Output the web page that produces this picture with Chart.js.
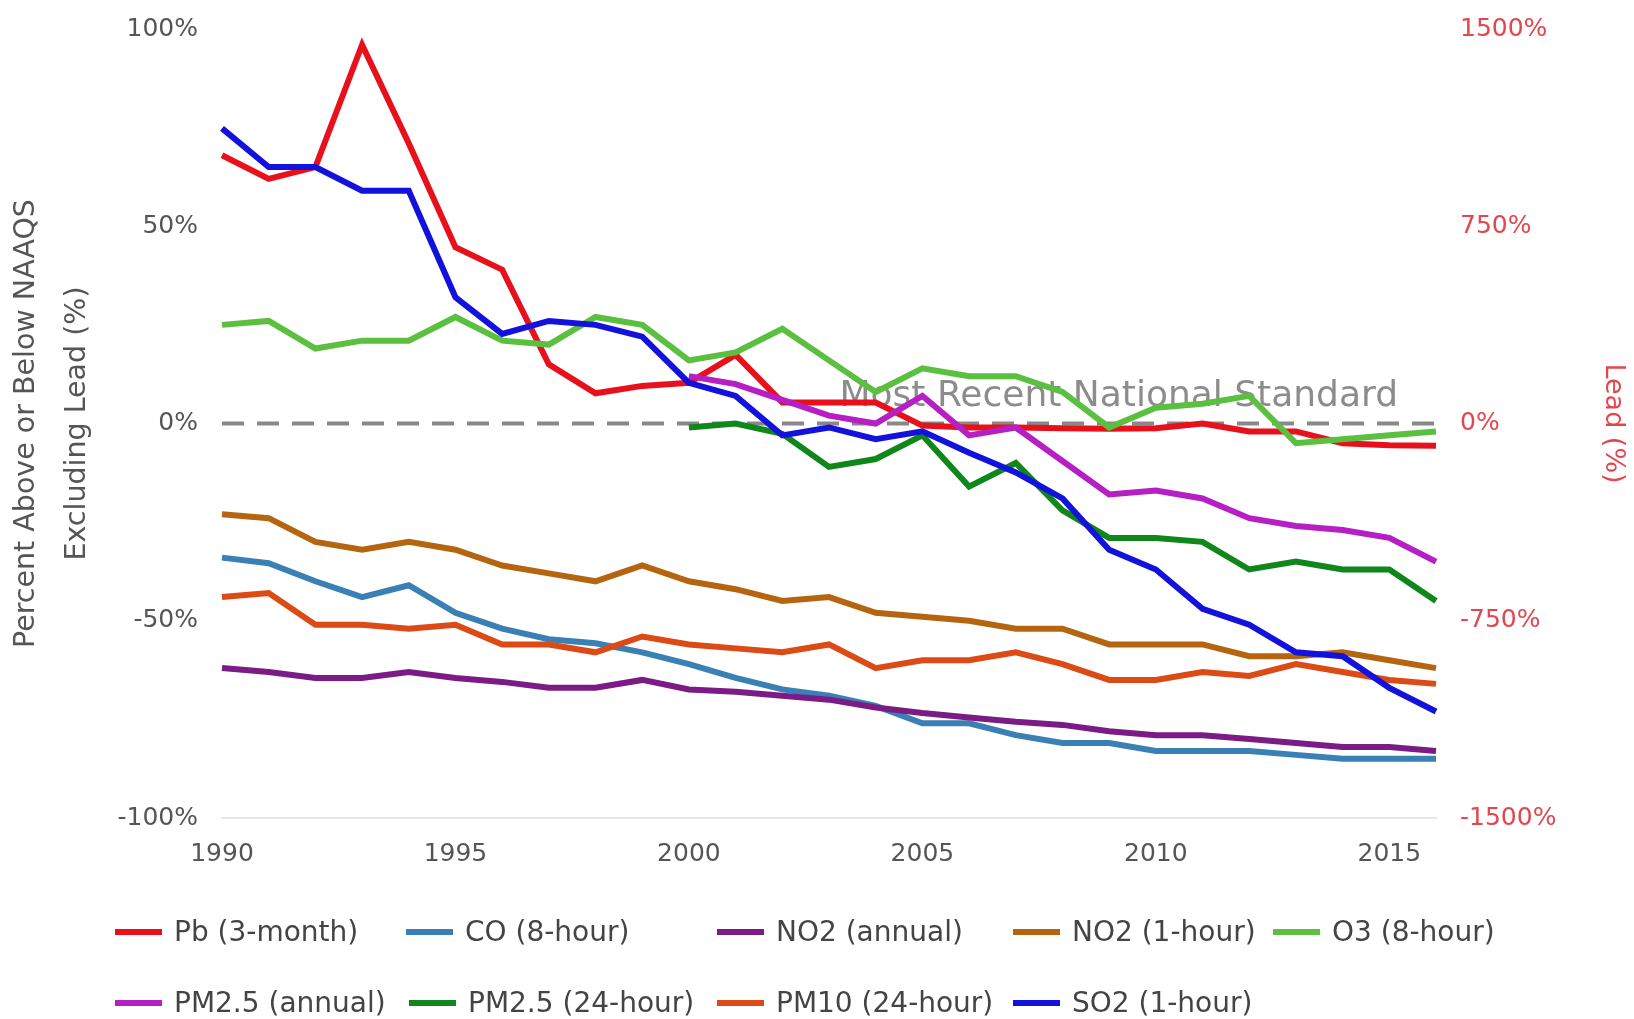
<!DOCTYPE html>
<html>
<head>
<meta charset="utf-8">
<script src="https://cdn.jsdelivr.net/npm/chart.js@4"></script>
<style>
  body { margin: 0; background: #fff; }
  #wrap { position: relative; width: 1634px; height: 1019px; }
  #legend { position: absolute; left: 0; top: 0; width: 1634px; height: 1019px; pointer-events: none;
    font-family: "DejaVu Sans", sans-serif; font-size: 28px; color: #444; }
  .item { position: absolute; height: 34px; line-height: 34px; white-space: nowrap; }
  .swatch { position: absolute; left: 0; top: 14px; width: 47px; height: 6px; }
  .label { position: absolute; left: 59px; top: 0; }
</style>
</head>
<body>
<div id="wrap">
  <canvas id="chart" width="1634" height="1019"></canvas>
  <div id="legend"></div>
</div>
<script>
const years = ["1990", "1991", "1992", "1993", "1994", "1995", "1996", "1997", "1998", "1999",
  "2000", "2001", "2002", "2003", "2004", "2005", "2006", "2007", "2008", "2009",
  "2010", "2011", "2012", "2013", "2014", "2015", "2016"];

// Lead is read against the right axis (Lead %)
const pb3Month = [1020, 930, 975, 1440, 1065, 670, 585, 225, 115, 143, 155, 261, 80, 80, 80,
  -8, -15, -15, -18, -20, -18, 0, -30, -30, -75, -83, -85];
const co8Hour = [-34, -35.4, -40, -44, -41, -48, -52, -54.7, -55.7, -58, -61, -64.5, -67.4, -69,
  -71.6, -76, -76, -79, -81, -81, -83, -83, -83, -84, -85, -85, -85];
const no2Annual = [-62, -63, -64.5, -64.5, -63, -64.5, -65.5, -67, -67, -65, -67.4, -68, -69, -70,
  -72, -73.4, -74.5, -75.6, -76.4, -78, -79, -79, -80, -81, -82, -82, -83];
const no21Hour = [-23, -24, -30, -32, -30, -32, -36, -38, -40, -36, -40, -42, -45, -44, -48, -49,
  -50, -52, -52, -56, -56, -56, -59, -59, -58, -60, -62];
const o38Hour = [25, 26, 19, 21, 21, 27, 21, 20, 27, 25, 16, 18, 24, 16, 8, 14, 12, 12, 8, -1, 4,
  5, 7, -5, -4, -3, -2];
const pm25Annual = [null, null, null, null, null, null, null, null, null, null, 12, 10, 6, 2, 0, 7,
  -3, -1, -9.5, -18, -17, -19, -24, -26, -27, -29, -35];
const pm2524Hour = [null, null, null, null, null, null, null, null, null, null, -1, 0, -2.6, -11, -9,
  -3, -16, -10, -22, -29, -29, -30, -37, -35, -37, -37, -45];
const pm1024Hour = [-44, -43, -51, -51, -52, -51, -56, -56, -58, -54, -56, -57, -58, -56, -62, -60,
  -60, -58, -61, -65, -65, -63, -64, -61, -63, -65, -66];
const so21Hour = [74.8, 65, 65, 59, 59, 32, 22.7, 26, 25, 22, 10.3, 7, -3, -1, -4, -2, -7.4, -12.4,
  -19, -32, -37, -47, -51, -58, -59, -67, -73];
const standard = years.map(() => 0);

const leftTicks = [-100, -50, 0, 50, 100];
const rightTicks = [-1500, -750, 0, 750, 1500];

const seriesNames = ["Pb (3-month)", "CO (8-hour)", "NO2 (annual)", "NO2 (1-hour)", "O3 (8-hour)",
  "PM2.5 (annual)", "PM2.5 (24-hour)", "PM10 (24-hour)", "SO2 (1-hour)"];
const seriesColors = ["#e8111b", "#3b80b5", "#7b1b86", "#b5650f", "#5bbf3f",
  "#b61fc4", "#0f871a", "#dc4a15", "#1212dc"];
const seriesData = [pb3Month, co8Hour, no2Annual, no21Hour, o38Hour,
  pm25Annual, pm2524Hour, pm1024Hour, so21Hour];

const FONT = "'DejaVu Sans', sans-serif";

const datasets = seriesNames.map((name, i) => ({
  label: name,
  data: seriesData[i],
  borderColor: seriesColors[i],
  backgroundColor: seriesColors[i],
  borderWidth: 6,
  pointRadius: 0,
  tension: 0,
  yAxisID: i === 0 ? "y1" : "y",
  order: 20 - i,
}));

datasets.push({
  label: "Most Recent National Standard",
  data: standard,
  borderColor: "#888888",
  borderWidth: 4,
  borderDash: [22, 13],
  pointRadius: 0,
  yAxisID: "y",
  order: 50,
  isStandard: true,
});

// label for the standard line, drawn under the series lines
const standardLabel = {
  id: "standardLabel",
  beforeDatasetsDraw(chart) {
    const { ctx, scales } = chart;
    const x = scales.x.right - 38;
    const y = scales.y.getPixelForValue(0) - 18;
    ctx.save();
    ctx.font = "36px " + FONT;
    ctx.fillStyle = "rgba(128,128,128,0.9)";
    ctx.textAlign = "right";
    ctx.textBaseline = "alphabetic";
    ctx.fillText("Most Recent National Standard", x, y);
    ctx.restore();
  },
};

// fixed widths for the side axes, no extra padding above/below the plot
const fitSide = (w) => (scale) => {
  scale.width = w;
  scale.paddingTop = 0;
  scale.paddingBottom = 0;
};

const chart = new Chart(document.getElementById("chart").getContext("2d"), {
  type: "line",
  data: { labels: years, datasets: datasets },
  options: {
    responsive: false,
    animation: false,
    layout: { padding: { left: 0, right: 0, top: 29, bottom: 141 } },
    plugins: {
      legend: { display: false },
      tooltip: { enabled: false },
    },
    scales: {
      x: {
        grid: { display: false, drawTicks: false },
        border: { display: true, color: "#e6e6e6", width: 2 },
        afterFit: (scale) => { scale.height = 60; },
        ticks: {
          autoSkip: false,
          maxRotation: 0,
          padding: 21,
          color: "#555",
          font: { family: FONT, size: 25 },
          callback: function (value) {
            const label = this.getLabelForValue(value);
            return Number(label) % 5 === 0 ? label : "";
          },
        },
      },
      y: {
        position: "left",
        min: -100,
        max: 100,
        afterFit: fitSide(222),
        afterBuildTicks: (scale) => { scale.ticks = leftTicks.map((v) => ({ value: v })); },
        grid: { display: false, drawTicks: false },
        border: { display: false },
        ticks: {
          padding: 24,
          color: "#555",
          font: { family: FONT, size: 25 },
          callback: (v) => v + "%",
        },
        title: {
          display: true,
          text: ["Percent Above or Below NAAQS", "Excluding Lead (%)"],
          color: "#555",
          font: { family: FONT, size: 28.5, lineHeight: 1.8 },
          padding: { top: 1, bottom: 0 },
        },
      },
      y1: {
        position: "right",
        min: -1500,
        max: 1500,
        afterFit: fitSide(198),
        afterBuildTicks: (scale) => { scale.ticks = rightTicks.map((v) => ({ value: v })); },
        grid: { display: false, drawTicks: false },
        border: { display: false },
        ticks: {
          padding: 24,
          color: "#e3474d",
          font: { family: FONT, size: 25 },
          callback: (v) => v + "%",
        },
        title: {
          display: true,
          text: "Lead (%)",
          color: "#e3474d",
          font: { family: FONT, size: 27, lineHeight: 1.25 },
          padding: { top: 4, bottom: 0 },
        },
      },
    },
  },
  plugins: [standardLabel],
});

// html legend laid out in columns
const legendCols = [[115, 406, 717, 1013, 1273], [115, 409, 717, 1013]];
const legendRowY = [932, 1003];
const legendEl = document.getElementById("legend");
chart.data.datasets.filter((d) => !d.isStandard).forEach((d, i) => {
  const row = i < 5 ? 0 : 1;
  const col = row === 0 ? i : i - 5;
  const item = document.createElement("div");
  item.className = "item";
  item.style.left = legendCols[row][col] + "px";
  item.style.top = legendRowY[row] - 17 + "px";
  const sw = document.createElement("span");
  sw.className = "swatch";
  sw.style.background = d.borderColor;
  const lb = document.createElement("span");
  lb.className = "label";
  lb.textContent = d.label;
  item.appendChild(sw);
  item.appendChild(lb);
  legendEl.appendChild(item);
});
</script>
</body>
</html>
